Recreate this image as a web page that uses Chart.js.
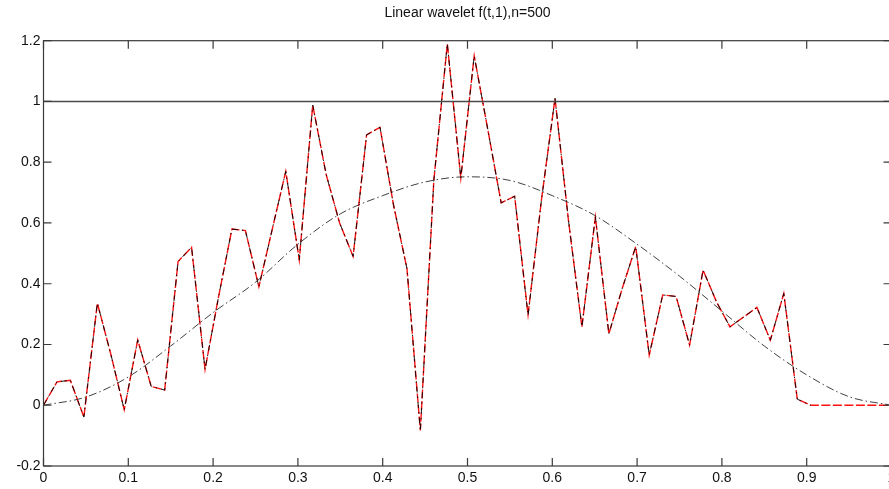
<!DOCTYPE html>
<html>
<head>
<meta charset="utf-8">
<script src="https://cdn.jsdelivr.net/npm/chart.js@4.4.1/dist/chart.umd.min.js"></script>
<style>
  html, body { margin: 0; padding: 0; background: #fff; overflow: hidden; }
  #wrap { position: absolute; left: 0; top: 0; width: 900px; height: 489px; }
</style>
</head>
<body>
<div id="wrap"><canvas id="c"></canvas></div>
<script>
// ---- data ----
const sampleT = [0, 0.0159, 0.0317, 0.0476, 0.0635, 0.0794, 0.0952, 0.1111, 0.1270, 0.1429,
  0.1587, 0.1746, 0.1905, 0.2063, 0.2222, 0.2381, 0.2540, 0.2698, 0.2857, 0.3016,
  0.3175, 0.3333, 0.3492, 0.3651, 0.3810, 0.3968, 0.4127, 0.4286, 0.4444, 0.4603,
  0.4762, 0.4921, 0.5079, 0.5238, 0.5397, 0.5556, 0.5714, 0.5873, 0.6032, 0.6190,
  0.6349, 0.6508, 0.6667, 0.6825, 0.6984, 0.7143, 0.7302, 0.7460, 0.7619, 0.7778,
  0.7937, 0.8095, 0.8254, 0.8413, 0.8571, 0.8730, 0.8889, 0.9048, 0.9206, 0.9365,
  0.9524, 0.9683, 0.9841, 1.0];

const estimateVals = [0, 0.077, 0.082, -0.039, 0.336, 0.168, -0.015, 0.215, 0.062, 0.050,
  0.473, 0.520, 0.118, 0.355, 0.580, 0.575, 0.390, 0.580, 0.770, 0.478,
  0.988, 0.760, 0.600, 0.490, 0.890, 0.915, 0.660, 0.450, -0.083, 0.740,
  1.190, 0.748, 1.150, 0.910, 0.666, 0.688, 0.298, 0.678, 1.010, 0.610,
  0.258, 0.620, 0.235, 0.385, 0.522, 0.165, 0.363, 0.358, 0.198, 0.445,
  0.340, 0.258, 0.290, 0.322, 0.214, 0.368, 0.020, 0, 0, 0,
  0, 0, 0, 0];

const noisyVals = [0, 0.077, 0.082, -0.039, 0.336, 0.168, -0.015, 0.215, 0.062, 0.050,
  0.473, 0.520, 0.118, 0.355, 0.580, 0.575, 0.390, 0.580, 0.770, 0.478,
  0.988, 0.760, 0.600, 0.490, 0.890, 0.915, 0.660, 0.450, -0.085, 0.740,
  1.190, 0.748, 1.150, 0.910, 0.666, 0.688, 0.295, 0.678, 1.010, 0.610,
  0.258, 0.620, 0.235, 0.385, 0.522, 0.165, 0.363, 0.358, 0.198, 0.445,
  0.340, 0.258, 0.290, 0.322, 0.214, 0.368, 0.020, 0, null, null,
  null, null, null, null];

const curveT = [0, 0.05, 0.1, 0.15, 0.2, 0.25, 0.3, 0.35, 0.4, 0.45, 0.5,
  0.55, 0.6, 0.65, 0.7, 0.75, 0.8, 0.85, 0.9, 0.95, 1.0];
const curveVals = [0, 0.027, 0.093, 0.195, 0.305, 0.405, 0.53, 0.63, 0.69, 0.735, 0.752,
  0.74, 0.69, 0.625, 0.53, 0.425, 0.31, 0.195, 0.1, 0.028, 0];

const refT = [0, 1];
const refVals = [1, 1];

const xTicks = [0, 0.1, 0.2, 0.3, 0.4, 0.5, 0.6, 0.7, 0.8, 0.9, 1];
const yTicks = [-0.2, 0, 0.2, 0.4, 0.6, 0.8, 1, 1.2];
const xTickLabels = ['0', '0.1', '0.2', '0.3', '0.4', '0.5', '0.6', '0.7', '0.8', '0.9', '1'];
const yTickLabels = ['-0.2', '0', '0.2', '0.4', '0.6', '0.8', '1', '1.2'];
const titleText = 'Linear wavelet f(t,1),n=500';

const pts = (xs, ys) => xs.map((x, i) => ({ x: x, y: ys[i] }));

// inward ticks + box, drawn through the chart's scales
const boxTicks = {
  id: 'boxTicks',
  afterDraw(chart) {
    const { ctx, chartArea: a, scales } = chart;
    const L = 8;
    ctx.save();
    ctx.strokeStyle = '#3a3a3a';
    ctx.lineWidth = 1.2;
    ctx.strokeRect(a.left, a.top, a.right - a.left, a.bottom - a.top);
    ctx.beginPath();
    xTicks.forEach(v => {
      const px = scales.x.getPixelForValue(v);
      ctx.moveTo(px, a.bottom); ctx.lineTo(px, a.bottom - L);
      ctx.moveTo(px, a.top); ctx.lineTo(px, a.top + L);
    });
    yTicks.forEach(v => {
      const py = scales.y.getPixelForValue(v);
      ctx.moveTo(a.left, py); ctx.lineTo(a.left + L, py);
      ctx.moveTo(a.right, py); ctx.lineTo(a.right - L, py);
    });
    ctx.stroke();
    ctx.restore();
  }
};

const font = { family: "'Liberation Sans', Arial, sans-serif", size: 14 };

new Chart(document.getElementById('c'), {
  type: 'line',
  data: {
    datasets: [
      {
        data: pts(refT, refVals),
        borderColor: '#4a4a4a', borderWidth: 1.4, pointRadius: 0, tension: 0
      },
      {
        data: pts(curveT, curveVals),
        borderColor: '#2a2a2a', borderWidth: 0.9, borderDash: [8, 3, 1.5, 3],
        pointRadius: 0, cubicInterpolationMode: 'monotone'
      },
      {
        data: pts(sampleT, noisyVals),
        borderColor: '#000000', borderWidth: 0.9, borderDash: [6, 4, 1.5, 4],
        pointRadius: 0, tension: 0, spanGaps: false
      },
      {
        data: pts(sampleT, estimateVals),
        borderColor: '#ff1010', borderWidth: 1.4, borderDash: [9, 2.5],
        pointRadius: 0, tension: 0
      }
    ]
  },
  options: {
    responsive: true,
    maintainAspectRatio: false,
    devicePixelRatio: 1,
    animation: false,
    events: [],
    layout: { padding: { left: 0, right: 8.5, top: 0, bottom: 0 } },
    plugins: {
      legend: { display: false },
      tooltip: { enabled: false },
      title: {
        display: true, text: titleText, color: '#111', fullSize: false,
        font: { family: "'Liberation Sans', Arial, sans-serif", size: 14, weight: 'normal' },
        padding: { top: 5, bottom: 18.9 }
      }
    },
    scales: {
      x: {
        type: 'linear', min: 0, max: 1,
        afterBuildTicks: s => { s.ticks = xTicks.map(v => ({ value: v })); },
        afterFit: s => { s.height = 23; },
        ticks: {
          color: '#111', font: font, padding: 4, maxRotation: 0, autoSkip: false,
          callback: (v, i) => xTickLabels[i]
        },
        grid: { display: true, drawOnChartArea: false, drawTicks: false },
        border: { display: false }
      },
      y: {
        type: 'linear', min: -0.2, max: 1.2,
        afterBuildTicks: s => { s.ticks = yTicks.map(v => ({ value: v })); },
        afterFit: s => { s.width = 43.5; },
        ticks: {
          color: '#111', font: font, padding: 3, autoSkip: false,
          callback: (v, i) => yTickLabels[i]
        },
        grid: { display: true, drawOnChartArea: false, drawTicks: false },
        border: { display: false }
      }
    }
  },
  plugins: [boxTicks]
});
</script>
</body>
</html>
